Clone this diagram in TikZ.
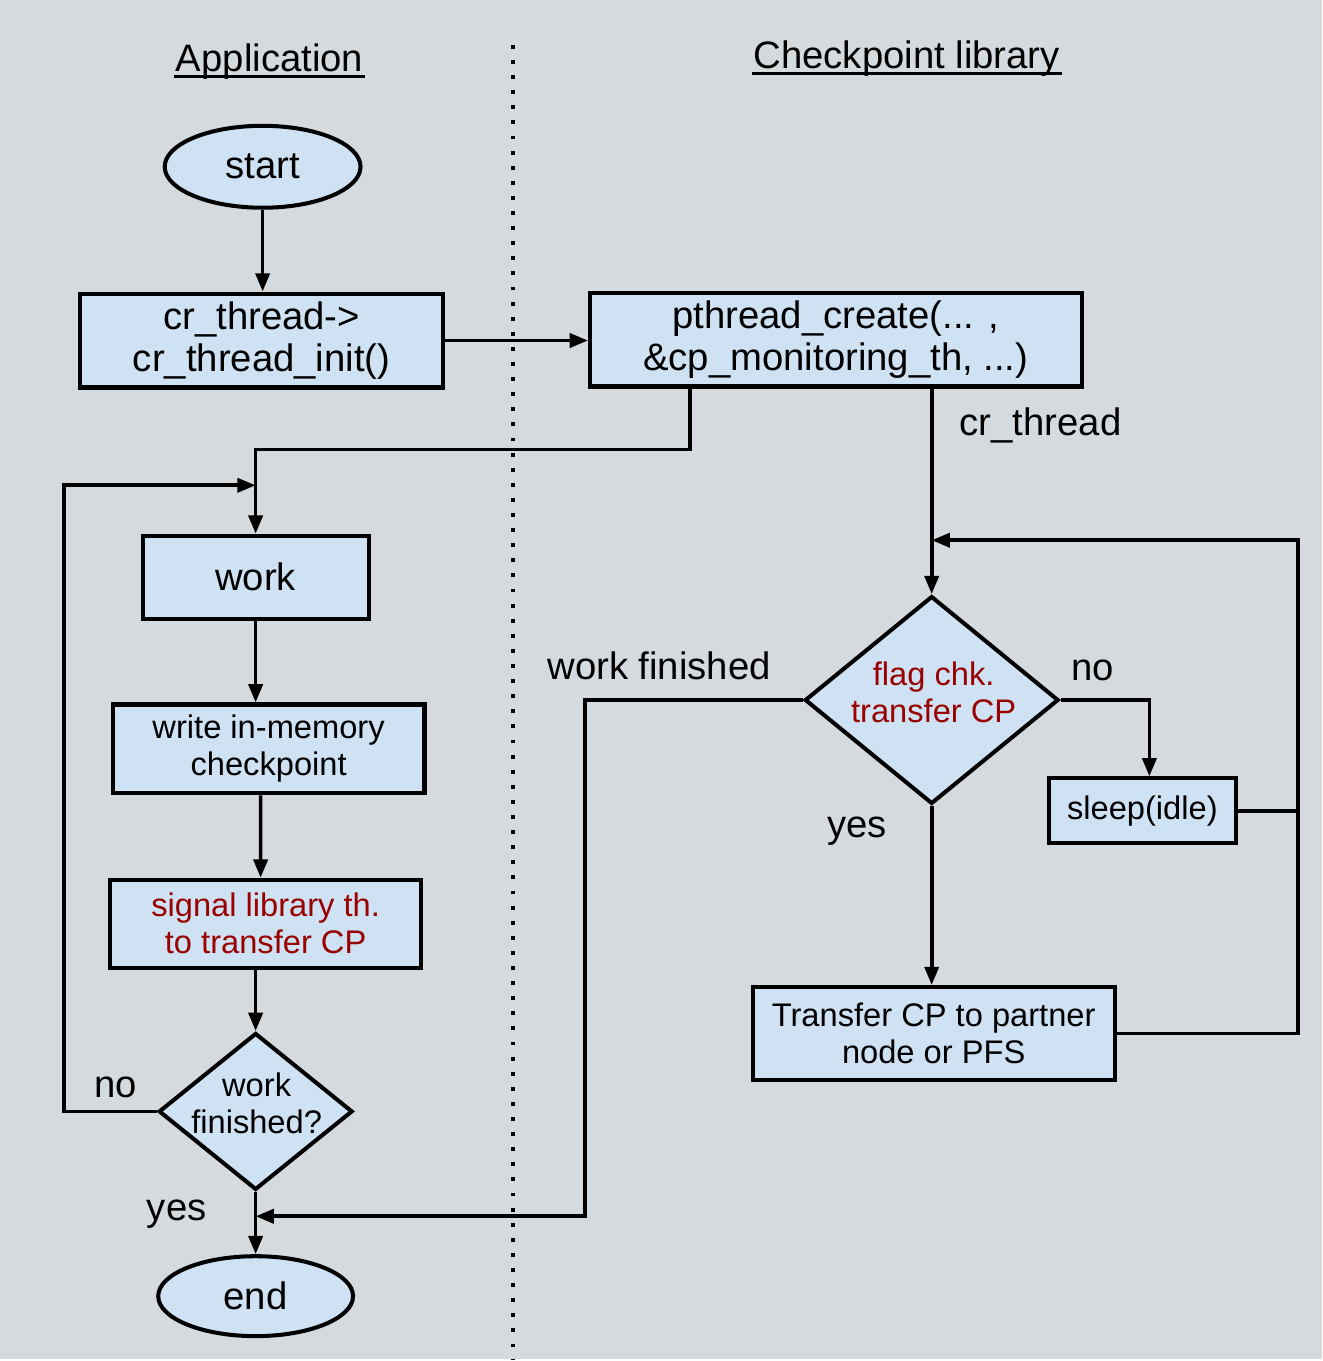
\documentclass[tikz,border=0pt]{standalone}
\usepackage{fontspec}
\setmainfont{Liberation Sans}
\usepackage{tikz}
\usetikzlibrary{shapes.geometric, arrows.meta}

\definecolor{bgcol}{RGB}{213,218,223}
\definecolor{boxfill}{RGB}{207,226,243}
\definecolor{darkred}{RGB}{153,0,0}

\newcommand{\bigtxt}{\fontsize{10.9pt}{11.9pt}\selectfont}
\newcommand{\smalltxt}{\fontsize{9.3pt}{10.5pt}\selectfont}

\begin{document}
\begin{tikzpicture}[x=0.01cm, y=-0.01cm, line width=1.05pt,
  box/.style={draw=black, line width=1.15pt, fill=boxfill, rectangle, inner sep=0pt, align=center},
  term/.style={draw=black, line width=1.15pt, fill=boxfill, ellipse, inner sep=0pt, font=\bigtxt},
  test/.style={draw=black, line width=1.15pt, fill=boxfill, diamond, inner sep=0pt},
  testtxt/.style={align=center, font=\smalltxt, inner sep=0pt},
  flow/.style={-{Triangle[length=5.2pt, width=4pt]}},
  lbl/.style={anchor=base, font=\bigtxt},
  title/.style={anchor=base, font=\bigtxt, inner sep=0pt}]

% draw background and separator
\fill[bgcol] (0, 0) rectangle (1324, 1361);
\draw[line width=1.1pt, dash pattern=on 1.1pt off 3.2pt] (514, 45) -- (514, 1361);

% draw column titles
\node[title] (apptitle) at (270, 72) {Application};
\node[title] (libtitle) at (908, 69) {Checkpoint library};
\draw[line width=0.9pt] ([yshift=-0.045cm]apptitle.base west) -- ([yshift=-0.045cm]apptitle.base east);
\draw[line width=0.9pt] ([yshift=-0.045cm]libtitle.base west) -- ([yshift=-0.045cm]libtitle.base east);

% draw application side
\node[term, minimum width=1.96cm, minimum height=0.82cm] (start) at (263, 167) {start};
\node[box, font=\bigtxt, minimum width=3.63cm, minimum height=0.94cm] (init) at (262, 341) {cr\_thread->\\cr\_thread\_init()};
\node[box, font=\bigtxt, minimum width=2.26cm, minimum height=0.83cm] (work) at (256, 578) {work};
\node[box, font=\smalltxt, minimum width=3.12cm, minimum height=0.89cm] (write) at (269, 750) {write in-memory\\checkpoint};
\node[box, font=\smalltxt, text=darkred, minimum width=3.11cm, minimum height=0.88cm] (signal) at (266, 925) {signal library th.\\to transfer CP};
\node[test, minimum width=1.94cm, minimum height=1.57cm] (done) at (256, 1113) {};
\node[testtxt] (donetxt) at (257, 1105) {work\\finished?};
\node[term, minimum width=1.95cm, minimum height=0.80cm] (stop) at (256, 1298) {end};

% draw library side
\node[box, font=\bigtxt, minimum width=4.92cm, minimum height=0.94cm] (create) at (837, 340) {pthread\_create(... ,\\\&cp\_monitoring\_th, ...)};
\node[test, minimum width=2.54cm, minimum height=2.08cm] (flag) at (933, 701) {};
\node[testtxt, text=darkred] (flagtxt) at (935, 693) {flag chk.\\transfer CP};
\node[box, font=\smalltxt, minimum width=1.87cm, minimum height=0.65cm] (sleep) at (1144, 812) {sleep(idle)};
\node[box, font=\smalltxt, minimum width=3.62cm, minimum height=0.93cm] (xfer) at (935, 1035) {Transfer CP to partner\\node or PFS};

% corner points of the routed lines
\coordinate (tap) at (691, 450);
\coordinate (loopL) at (64, 486);
\coordinate (joinR) at (586, 1218);
\coordinate (back) at (1300, 541);

% draw main flow
\draw[flow] (start.south) -- (start.south |- init.north);
\draw[flow] (init.east) -- (init.east -| create.west);
\draw[flow] (create.south -| tap) -- (tap) -| (work.north);
\draw[flow] (work.south) -- (work.south |- write.north);
\draw[flow] ([xshift=-0.08cm]write.south) -- ([xshift=-0.05cm]signal.north);
\draw[flow] (signal.south -| done.north) -- (done.north);
\draw[flow] (done.south) -- (stop.north);
\draw[flow] (done.west) -| (loopL) -- (loopL -| work.north);

% draw library thread
\draw[flow] (create.south -| flag.north) -- (flag.north);
\draw[flow] (flag.east) -| ([xshift=0.07cm]sleep.north);
\draw[flow] (flag.south) -- (flag.south |- xfer.north);
\draw (sleep.east) -- (sleep.east -| back);
\draw[flow] (xfer.east) -| (back) -- (back -| flag.north);
\draw[flow] (flag.west) -| (joinR) -- (joinR -| done.south);

% draw labels
\node[lbl] (crlbl) at (1042, 436) {cr\_thread};
\node[lbl] (wflbl) at (660, 680) {work finished};
\node[lbl] (nor) at (1094, 681) {no};
\node[lbl] (yesr) at (858, 839) {yes};
\node[lbl] (nol) at (116, 1099) {no};
\node[lbl] (yesl) at (177, 1222) {yes};

\end{tikzpicture}
\end{document}
